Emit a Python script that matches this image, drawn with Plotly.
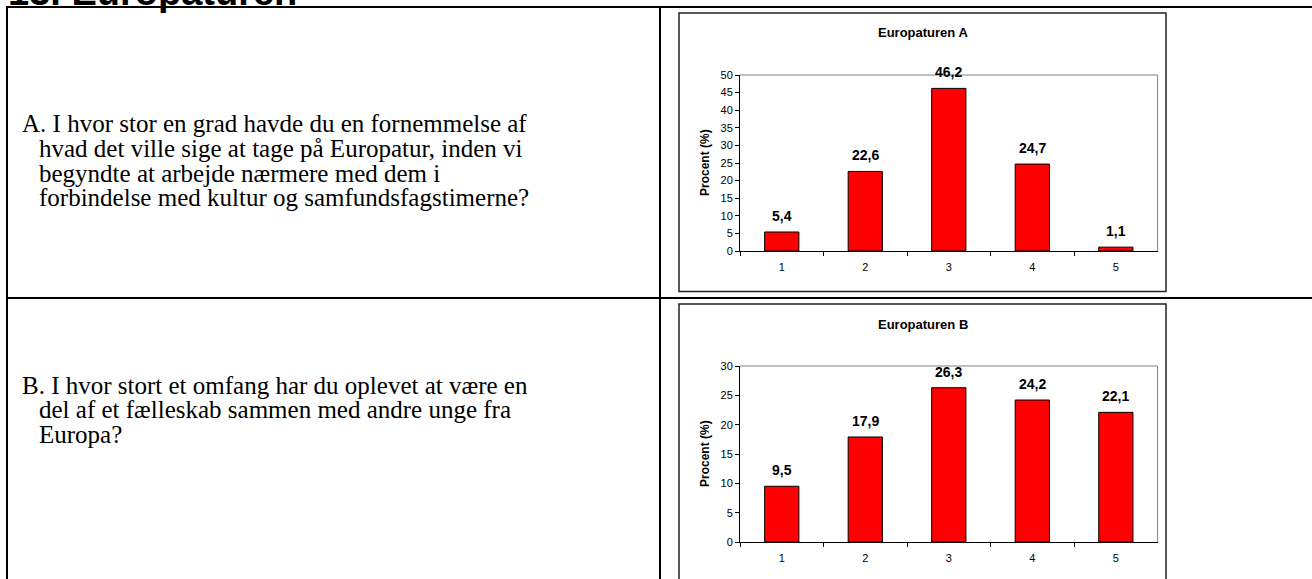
import plotly.graph_objects as go

W, H = 1312, 579

categories = ["1", "2", "3", "4", "5"]
values_a = [5.4, 22.6, 46.2, 24.7, 1.1]
values_b = [9.5, 17.9, 26.3, 24.2, 22.1]
title_a = "Europaturen A"
title_b = "Europaturen B"
yaxis_title = "Procent (%)"
header = "13. Europaturen"
question_a = [
    "A. I hvor stor en grad havde du en fornemmelse af",
    "hvad det ville sige at tage på Europatur, inden vi",
    "begyndte at arbejde nærmere med dem i",
    "forbindelse med kultur og samfundsfagstimerne?",
]
question_b = [
    "B. I hvor stort et omfang har du oplevet at være en",
    "del af et fælleskab sammen med andre unge fra",
    "Europa?",
]


def px(x):
    return x / W


def py(y):
    return 1 - y / H


def fmt(v):
    return f"{v:.1f}".replace(".", ",")


fig = go.Figure()
fig.add_trace(go.Bar(x=categories, y=values_a, xaxis="x", yaxis="y",
                     marker=dict(color="#FF0000", line=dict(color="black", width=1)),
                     showlegend=False, hoverinfo="skip"))
fig.add_trace(go.Bar(x=categories, y=values_b, xaxis="x2", yaxis="y2",
                     marker=dict(color="#FF0000", line=dict(color="black", width=1)),
                     showlegend=False, hoverinfo="skip"))

OFF = 291
plot_l, plot_r = 740, 1157.6
plot_t, plot_b = 75, 251

tick_font = dict(family="Arial, Liberation Sans", size=11, color="black")
xcommon = dict(type="category", tickson="boundaries", ticks="outside", ticklen=4,
               tickcolor="black", showline=True, linecolor="black", linewidth=1,
               showgrid=False, zeroline=False, tickfont=tick_font, fixedrange=True,
               ticklabelstandoff=6, automargin=False)
ycommon = dict(ticks="outside", ticklen=4, tickcolor="black", showline=True,
               linecolor="black", linewidth=1, showgrid=False, zeroline=False,
               dtick=5, tickfont=tick_font, fixedrange=True, automargin=False)

fig.update_layout(
    width=W, height=H, autosize=False,
    margin=dict(l=0, r=0, t=0, b=0, pad=0, autoexpand=False),
    paper_bgcolor="white", plot_bgcolor="white",
    bargap=0.59,
    xaxis=dict(domain=[px(plot_l), px(plot_r)], anchor="y", **xcommon),
    yaxis=dict(domain=[py(plot_b), py(plot_t)], anchor="x", range=[0, 50], **ycommon),
    xaxis2=dict(domain=[px(plot_l), px(plot_r)], anchor="y2", **xcommon),
    yaxis2=dict(domain=[py(plot_b + OFF), py(plot_t + OFF)], anchor="x2", range=[0, 30], **ycommon),
)

shapes = []
line_k = dict(color="black", width=2)
shapes.append(dict(type="line", xref="paper", yref="paper", x0=px(7), x1=px(1312), y0=py(7), y1=py(7), line=line_k))
shapes.append(dict(type="line", xref="paper", yref="paper", x0=px(7), x1=px(1312), y0=py(298), y1=py(298), line=line_k))
shapes.append(dict(type="line", xref="paper", yref="paper", x0=px(7), x1=px(7), y0=py(6), y1=py(579), line=line_k))
shapes.append(dict(type="line", xref="paper", yref="paper", x0=px(660), x1=px(660), y0=py(6), y1=py(579), line=line_k))
for off in (0, OFF):
    shapes.append(dict(type="rect", xref="paper", yref="paper", x0=px(679), x1=px(1166),
                       y0=py(291.5 + off), y1=py(13 + off), line=dict(color="#222222", width=1.5)))
for xr, yr in (("x", "y"), ("x2", "y2")):
    shapes.append(dict(type="line", xref=f"{xr} domain", yref=f"{yr} domain", x0=0, x1=1, y0=1, y1=1,
                       line=dict(color="#808080", width=1)))
    shapes.append(dict(type="line", xref=f"{xr} domain", yref=f"{yr} domain", x0=1, x1=1, y0=0, y1=1,
                       line=dict(color="#808080", width=1)))
fig.update_layout(shapes=shapes)

ann = []
ann.append(dict(text=f"<b>{header}</b>", xref="paper", yref="paper", x=px(6), y=py(-8),
                xanchor="left", yanchor="middle", showarrow=False,
                font=dict(family="Arial, Liberation Sans", size=38, color="black")))
for t, off in ((title_a, 0), (title_b, OFF)):
    ann.append(dict(text=f"<b>{t}</b>", xref="paper", yref="paper", x=px(922.5), y=py(33 + off),
                    xanchor="center", yanchor="middle", showarrow=False,
                    font=dict(family="Arial, Liberation Sans", size=13, color="black")))
    ann.append(dict(text=f"<b>{yaxis_title}</b>", xref="paper", yref="paper", x=px(705), y=py((plot_t + plot_b) / 2 + off),
                    xanchor="center", yanchor="middle", showarrow=False, textangle=-90,
                    font=dict(family="Arial, Liberation Sans", size=12, color="black")))
for vals, xr, yr in ((values_a, "x", "y"), (values_b, "x2", "y2")):
    for i, v in enumerate(vals):
        ann.append(dict(text=f"<b>{fmt(v)}</b>", xref=xr, yref=yr, x=i, y=v,
                        xanchor="center", yanchor="bottom", yshift=6, showarrow=False,
                        font=dict(family="Arial, Liberation Sans", size=14, color="black")))
serif = dict(family="Liberation Serif, Times New Roman, serif", size=25, color="black")
for lines, y0 in ((question_a, 124), (question_b, 385)):
    for i, ln in enumerate(lines):
        ann.append(dict(text=ln, xref="paper", yref="paper", x=px(20 if i == 0 else 37), y=py(y0 + 24.5 * i),
                        xanchor="left", yanchor="middle", showarrow=False, font=serif))
fig.update_layout(annotations=ann)

post = """
document.documentElement.style.margin='0px';
document.body.style.margin='0px';
document.body.style.overflow='hidden';
"""
fig.write_html("out.html", config={"displayModeBar": False}, post_script=post)
